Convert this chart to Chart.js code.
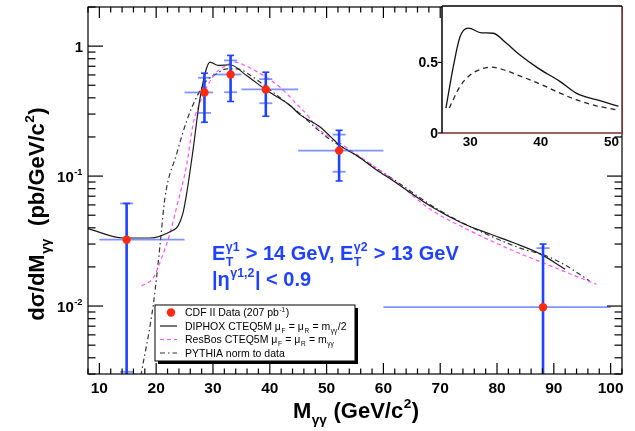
<!DOCTYPE html>
<html lang="en">
<head>
<meta charset="UTF-8">
<title>Diphoton mass spectrum</title>
<script src="https://cdn.jsdelivr.net/npm/chart.js@4"></script>
<style>
  body { margin: 0; background: #fff; }
  .wrap { position: relative; width: 635px; height: 431px; }
  #mainBox { position: absolute; left: 0; top: 0; width: 635px; height: 431px; }
  #insetBox { position: absolute; left: 395px; top: 0; width: 240px; height: 160px; }
</style>
</head>
<body>
<div class="wrap">
  <div id="mainBox"><canvas id="massChart"></canvas></div>
  <div id="insetBox"><canvas id="insetChart"></canvas></div>
</div>
<script>
// measured points (pb/GeV/c^2) with bin edges and stat / total errors
const dataMass = [14.8, 28.5, 33.1, 39.3, 52.2, 88.1];
const dataXsec = [0.0324, 0.44, 0.605, 0.464, 0.157, 0.0098];
const binLow   = [10, 25, 30, 35, 45, 60];
const binHigh  = [25, 30, 35, 45, 60, 100];
const statUp   = [0.0616, 0.571, 0.776, 0.557, 0.2085, 0.0279];
const statDown = [0.00312, 0.3065, 0.442, 0.3635, 0.108, 0.0005];
const totUp    = [0.0616, 0.619, 0.848, 0.630, 0.225, 0.030];
const totDown  = [0.0005, 0.2595, 0.375, 0.2886, 0.0917, 0.0005];

// theory curves
const diphoxMass = [8.0, 14.2, 18.9, 22.8, 23.8, 24.7, 25.4, 26.5, 27.7, 29.5, 30.9, 33.0, 35.9, 39.5, 43.6, 45.3, 48.8, 52.4, 55.3, 58.8, 61.7, 68.2, 74.0, 78.8, 82.8, 87.6, 92.0];
const diphoxXsec = [0.0395, 0.0334, 0.0334, 0.038, 0.041, 0.0516, 0.075, 0.16, 0.393, 0.753, 0.71, 0.719, 0.594, 0.455, 0.349, 0.297, 0.240, 0.1715, 0.1437, 0.1114, 0.0922, 0.0591, 0.0432, 0.0358, 0.0308, 0.0252, 0.0192];
const resbosMass = [17.45, 19.5, 21.0, 22.4, 23.6, 25.4, 26.5, 27.4, 28.9, 30.4, 31.8, 33.9, 35.6, 38.9, 41.8, 44.7, 46.7, 48.3, 53.5, 62.3, 68.2, 74.1, 82.9, 88.7, 92.3, 97.5];
const resbosXsec = [0.0143, 0.0165, 0.0237, 0.0359, 0.0575, 0.124, 0.252, 0.339, 0.483, 0.613, 0.689, 0.753, 0.71, 0.594, 0.483, 0.36, 0.292, 0.237, 0.166, 0.0894, 0.0557, 0.0402, 0.0266, 0.021, 0.0181, 0.0147];
const pythiaMass = [17.3, 19.5, 20.7, 21.55, 23.6, 25.4, 27.1, 28.9, 30.65, 32.4, 34.2, 36.5, 39.5, 45.0, 50.0, 54.7, 61.2, 70.0, 78.0, 84.6, 88.5, 92.2, 96.3];
const pythiaXsec = [0.0029, 0.0103, 0.030, 0.0685, 0.148, 0.268, 0.404, 0.544, 0.613, 0.669, 0.669, 0.60, 0.48, 0.31, 0.20, 0.149, 0.098, 0.054, 0.036, 0.0274, 0.0245, 0.0204, 0.0156];

// inset (linear scale)
const insetSolidMass = [26.56, 27.6, 28.54, 29.72, 31.6, 33.25, 35.1, 37.0, 39.6, 42.7, 45.0, 47.85, 51.0];
const insetSolidXsec = [0.177, 0.47, 0.68, 0.743, 0.71, 0.707, 0.637, 0.554, 0.46, 0.366, 0.283, 0.236, 0.19];
const insetDashMass = [27.03, 28.54, 29.95, 31.4, 33.0, 34.6, 37.0, 39.6, 42.7, 45.0, 47.85, 50.7];
const insetDashXsec = [0.177, 0.33, 0.41, 0.45, 0.467, 0.45, 0.405, 0.354, 0.283, 0.236, 0.193, 0.165];

// tick labels
const xTickValues = [10, 20, 30, 40, 50, 60, 70, 80, 90, 100];
const yTickValues = [0.01, 0.1, 1];
const yTickLabels = [['10', { sup: '-2' }], ['10', { sup: '-1' }], ['1']];
const insetXTicks = [30, 40, 50];
const insetYTicks = [0, 0.5];
const insetYLabels = ['0', '0.5'];

const FAMILY = '"Liberation Sans", Arial, Helvetica, sans-serif';
const BLUE = '#2042ff';

function font(size, weight) { return weight + ' ' + size + 'px ' + FAMILY; }
function zip(xs, ys) { return xs.map((v, i) => ({ x: v, y: ys[i] })); }
function seg(ctx, x1, y1, x2, y2) { ctx.beginPath(); ctx.moveTo(x1, y1); ctx.lineTo(x2, y2); ctx.stroke(); }

// text with sub/superscripts: strings, or {sub, sup} stacked at the same x
function richWidth(ctx, parts, size, weight) {
  let w = 0;
  parts.forEach(p => {
    if (typeof p === 'string') { ctx.font = font(size, weight); w += ctx.measureText(p).width; }
    else {
      ctx.font = font(size * 0.62, weight);
      const a = p.sub ? ctx.measureText(p.sub).width : 0;
      const b = p.sup ? ctx.measureText(p.sup).width : 0;
      w += Math.max(a, b) + 1;
    }
  });
  return w;
}
function drawRich(ctx, parts, x, y, size, weight, align) {
  const w = richWidth(ctx, parts, size, weight);
  let cx = align === 'center' ? x - w / 2 : align === 'right' ? x - w : x;
  ctx.textAlign = 'left';
  ctx.textBaseline = 'alphabetic';
  parts.forEach(p => {
    if (typeof p === 'string') {
      ctx.font = font(size, weight);
      ctx.fillText(p, cx, y);
      cx += ctx.measureText(p).width;
    } else {
      ctx.font = font(size * 0.62, weight);
      let a = 0, b = 0;
      if (p.sub) { ctx.fillText(p.sub, cx + 0.5, y + size * 0.28); a = ctx.measureText(p.sub).width; }
      if (p.sup) { ctx.fillText(p.sup, cx + 0.5, y - size * 0.45); b = ctx.measureText(p.sup).width; }
      cx += Math.max(a, b) + 1;
    }
  });
}

// error bars go under the markers but over the curves
const errorBars = {
  id: 'errorBars',
  beforeDatasetDraw(chart, args) {
    if (args.index !== 0) return;
    const { ctx, chartArea: a, scales: { x, y } } = chart;
    ctx.save();
    ctx.beginPath();
    ctx.rect(a.left, a.top, a.right - a.left, a.bottom - a.top);
    ctx.clip();
    dataMass.forEach((m, i) => {
      const px = x.getPixelForValue(m);
      const py = y.getPixelForValue(dataXsec[i]);
      ctx.strokeStyle = 'rgba(60,90,255,0.65)';
      ctx.lineWidth = 1.8;
      seg(ctx, x.getPixelForValue(binLow[i]), py, x.getPixelForValue(binHigh[i]), py);
      const su = y.getPixelForValue(statUp[i]), sd = y.getPixelForValue(statDown[i]);
      seg(ctx, px - 6.5, su, px + 6.5, su);
      seg(ctx, px - 6.5, sd, px + 6.5, sd);
      const tu = y.getPixelForValue(totUp[i]), td = y.getPixelForValue(totDown[i]);
      ctx.strokeStyle = BLUE;
      ctx.lineWidth = 2.6;
      seg(ctx, px, tu, px, td);
      ctx.lineWidth = 1.6;
      seg(ctx, px - 3.5, tu, px + 3.5, tu);
      seg(ctx, px - 3.5, td, px + 3.5, td);
    });
    ctx.restore();
  }
};

const frameAxes = {
  id: 'frameAxes',
  beforeDraw(chart) {
    const ctx = chart.ctx;
    ctx.save();
    ctx.fillStyle = '#fff';
    ctx.fillRect(0, 0, chart.width, chart.height);
    ctx.restore();
  },
  afterDraw(chart) {
    const { ctx, chartArea: a, scales: { x, y } } = chart;
    ctx.save();
    ctx.strokeStyle = '#000';
    ctx.fillStyle = '#000';
    ctx.lineWidth = 1.2;
    ctx.strokeRect(a.left, a.top, a.right - a.left, a.bottom - a.top);

    // x ticks, bottom and top
    for (let v = 8; v <= 102; v += 2) {
      const px = x.getPixelForValue(v);
      const len = v % 10 === 0 ? 11 : 5.5;
      seg(ctx, px, a.bottom, px, a.bottom - len);
      seg(ctx, px, a.top, px, a.top + len);
    }
    // log y ticks, left and right
    for (let e = -3; e <= 0; e++) {
      for (let m = 1; m <= 9; m++) {
        const v = m * Math.pow(10, e);
        if (v < y.min || v > y.max) continue;
        const py = y.getPixelForValue(v);
        const len = m === 1 ? 15 : 7.5;
        seg(ctx, a.left, py, a.left + len, py);
        seg(ctx, a.right, py, a.right - len, py);
      }
    }

    xTickValues.forEach(v => {
      drawRich(ctx, [String(v)], x.getPixelForValue(v), a.bottom + 19, 15.5, 'bold', 'center');
    });
    yTickValues.forEach((v, i) => {
      drawRich(ctx, yTickLabels[i], a.left - 5, y.getPixelForValue(v) + 5.5, 15, 'bold', 'right');
    });

    // axis titles
    drawRich(ctx, ['M', { sub: 'γγ' }, ' (GeV/c', { sup: '2' }, ')'], 356, 418, 22, 'bold', 'center');
    ctx.save();
    ctx.translate(44, 214);
    ctx.rotate(-Math.PI / 2);
    drawRich(ctx, ['dσ/dM', { sub: 'γγ' }, '  (pb/GeV/c', { sup: '2' }, ')'], 0, 0, 22, 'bold', 'center');
    ctx.restore();

    // selection cuts
    ctx.fillStyle = BLUE;
    drawRich(ctx, ['E', { sub: 'T', sup: 'γ1' }, ' > 14 GeV, E', { sub: 'T', sup: 'γ2' }, ' > 13 GeV'], 212, 260, 20, 'bold', 'left');
    drawRich(ctx, ['|η', { sup: 'γ1,2' }, '| < 0.9'], 212, 286, 20, 'bold', 'left');

    // legend box with shadow
    const L = 155, T = 305, W = 200, H = 56;
    ctx.fillStyle = '#000';
    ctx.fillRect(L + 3, T + 3, W, H);
    ctx.fillStyle = '#fff';
    ctx.fillRect(L, T, W, H);
    ctx.lineWidth = 1;
    ctx.strokeStyle = '#000';
    ctx.strokeRect(L, T, W, H);

    const rows = [312.5, 326, 339.5, 353];
    ctx.fillStyle = '#ff2a10';
    ctx.beginPath();
    ctx.arc(171, rows[0], 4.2, 0, Math.PI * 2);
    ctx.fill();
    ctx.lineWidth = 1.2;
    ctx.strokeStyle = '#1a1a1a';
    seg(ctx, 160, rows[1], 177, rows[1]);
    ctx.strokeStyle = '#ff55ff';
    ctx.setLineDash([4, 3]);
    seg(ctx, 160, rows[2], 177, rows[2]);
    ctx.strokeStyle = '#333';
    ctx.setLineDash([5, 3, 1.5, 3]);
    seg(ctx, 160, rows[3], 177, rows[3]);
    ctx.setLineDash([]);

    ctx.fillStyle = '#000';
    const entries = [
      ['CDF II Data (207 pb', { sup: '-1' }, ')'],
      ['DIPHOX CTEQ5M μ', { sub: 'F' }, ' = μ', { sub: 'R' }, ' = m', { sub: 'γγ' }, '/2'],
      ['ResBos CTEQ5M μ', { sub: 'F' }, ' = μ', { sub: 'R' }, ' = m', { sub: 'γγ' }],
      ['PYTHIA norm to data']
    ];
    entries.forEach((parts, i) => drawRich(ctx, parts, 185, rows[i] + 3.8, 10.5, 'normal', 'left'));
    ctx.restore();
  }
};

new Chart(document.getElementById('massChart'), {
  type: 'scatter',
  data: {
    datasets: [
      { label: 'CDF II Data', data: zip(dataMass, dataXsec), pointRadius: 4.2, pointBackgroundColor: '#ff2a10', pointBorderWidth: 0, showLine: false },
      { label: 'DIPHOX', data: zip(diphoxMass, diphoxXsec), showLine: true, borderColor: '#1a1a1a', borderWidth: 1.2, pointRadius: 0, cubicInterpolationMode: 'monotone' },
      { label: 'ResBos', data: zip(resbosMass, resbosXsec), showLine: true, borderColor: '#ff55ff', borderWidth: 1.2, borderDash: [4, 3], pointRadius: 0, cubicInterpolationMode: 'monotone' },
      { label: 'PYTHIA', data: zip(pythiaMass, pythiaXsec), showLine: true, borderColor: '#333', borderWidth: 1.2, borderDash: [5, 3, 1.5, 3], pointRadius: 0, cubicInterpolationMode: 'monotone' }
    ]
  },
  options: {
    responsive: true,
    maintainAspectRatio: false,
    animation: false,
    events: [],
    layout: { padding: { left: 88, top: 7, right: 13, bottom: 57 } },
    scales: {
      x: { type: 'linear', min: 8, max: 102, display: false },
      y: { type: 'logarithmic', min: 0.003, max: 2, display: false }
    },
    plugins: { legend: { display: false }, tooltip: { enabled: false } }
  },
  plugins: [errorBars, frameAxes]
});

// inset with linear y
const insetFrame = {
  id: 'insetFrame',
  beforeDraw(chart) {
    const { ctx, chartArea: a } = chart;
    ctx.save();
    ctx.fillStyle = '#fff';
    ctx.fillRect(a.left, a.top, a.right - a.left, a.bottom - a.top);
    ctx.restore();
  },
  afterDraw(chart) {
    const { ctx, chartArea: a, scales: { x, y } } = chart;
    ctx.save();
    ctx.lineWidth = 1.5;
    ctx.strokeStyle = '#7a2c2c';
    seg(ctx, a.right, a.top, a.right, a.bottom);
    seg(ctx, a.left, a.bottom, a.right, a.bottom);
    ctx.strokeStyle = '#000';
    seg(ctx, a.left, a.top, a.right, a.top);
    seg(ctx, a.left, a.top, a.left, a.bottom);
    ctx.fillStyle = '#000';
    insetYTicks.forEach((v, i) => {
      const py = y.getPixelForValue(v);
      ctx.lineWidth = 1.2;
      seg(ctx, a.left - 4, py, a.left, py);
      drawRich(ctx, [insetYLabels[i]], a.left - 4, py + 5, 14, 'bold', 'right');
    });
    insetXTicks.forEach(v => {
      drawRich(ctx, [String(v)], x.getPixelForValue(v), a.bottom + 13, 13.5, 'bold', 'center');
    });
    ctx.restore();
  }
};

new Chart(document.getElementById('insetChart'), {
  type: 'scatter',
  data: {
    datasets: [
      { label: 'solid', data: zip(insetSolidMass, insetSolidXsec), showLine: true, borderColor: '#111', borderWidth: 1.3, pointRadius: 0, cubicInterpolationMode: 'monotone' },
      { label: 'dashed', data: zip(insetDashMass, insetDashXsec), showLine: true, borderColor: '#222', borderWidth: 1.3, borderDash: [5, 4], pointRadius: 0, cubicInterpolationMode: 'monotone' }
    ]
  },
  options: {
    responsive: true,
    maintainAspectRatio: false,
    animation: false,
    events: [],
    layout: { padding: { left: 47, top: 6, right: 13, bottom: 27 } },
    scales: {
      x: { type: 'linear', min: 26, max: 51.5, display: false },
      y: { type: 'linear', min: 0, max: 0.9, display: false }
    },
    plugins: { legend: { display: false }, tooltip: { enabled: false } }
  },
  plugins: [insetFrame]
});
</script>
</body>
</html>
